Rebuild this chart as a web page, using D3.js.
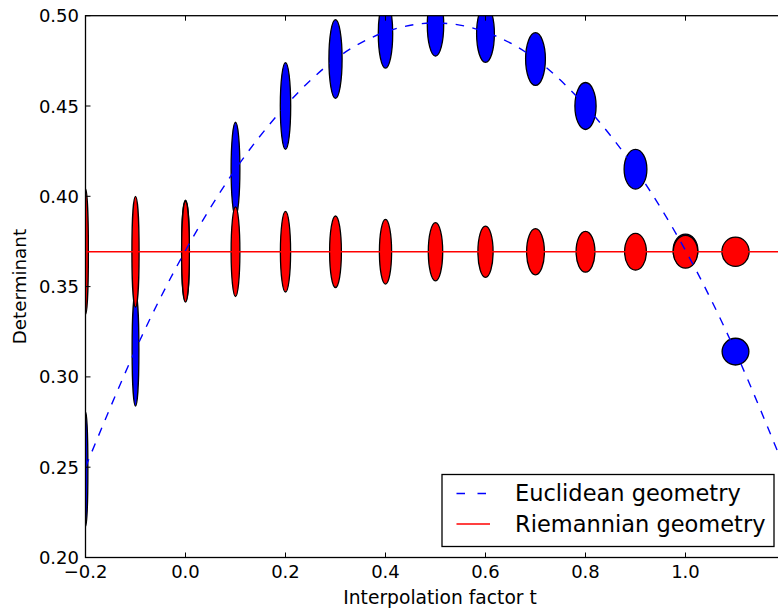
<!DOCTYPE html>
<html>
<head>
<meta charset="utf-8">
<script src="https://cdn.jsdelivr.net/npm/d3@7"></script>
<style>
  body { margin: 0; background: #fff; }
  svg { display: block; font-family: "DejaVu Sans", sans-serif; }
</style>
</head>
<body>
<svg id="chart" width="778" height="610"></svg>
<script>
// interpolation factor for each drawn ellipse
const tValues = [-0.2, -0.1, 0.0, 0.1, 0.2, 0.3, 0.4, 0.5, 0.6, 0.7, 0.8, 0.9, 1.0, 1.1];

// euclidean interpolation: determinant and ellipse semi-axes (t units, determinant units)
const euclidDet = [0.249, 0.315, 0.370, 0.415, 0.450, 0.476, 0.490, 0.495, 0.490, 0.476, 0.450, 0.415, 0.370, 0.314];
const euclidHalfW = [0.0048, 0.0068, 0.0078, 0.0088, 0.0104, 0.0132, 0.0144, 0.0164, 0.0178, 0.0198, 0.0212, 0.0228, 0.0248, 0.0268];
const euclidHalfH = [0.0318, 0.0312, 0.0279, 0.0260, 0.0240, 0.0218, 0.0190, 0.0174, 0.0158, 0.0146, 0.0130, 0.0110, 0.0091, 0.0074];

// riemannian interpolation: determinant stays constant
const riemannDet = 0.3693;
const riemannHalfW = [0.0058, 0.0072, 0.0078, 0.0088, 0.0102, 0.0118, 0.0122, 0.0144, 0.0152, 0.0178, 0.0188, 0.0218, 0.0244, 0.0272];
const riemannHalfH = [0.0348, 0.0307, 0.0279, 0.0248, 0.0223, 0.0198, 0.0179, 0.0161, 0.0142, 0.0128, 0.0113, 0.0102, 0.0091, 0.0081];

const curveT = [-0.2, -0.1, 0.0, 0.1, 0.2, 0.3, 0.4, 0.5, 0.6, 0.7, 0.8, 0.9, 1.0, 1.1, 1.2];
const curveDet = [0.250, 0.315, 0.370, 0.415, 0.450, 0.476, 0.491, 0.496, 0.491, 0.476, 0.450, 0.415, 0.370, 0.314, 0.248];

const xTicks = [-0.2, 0.0, 0.2, 0.4, 0.6, 0.8, 1.0];
const yTicks = [0.20, 0.25, 0.30, 0.35, 0.40, 0.45, 0.50];
const legendLabels = ['Euclidean geometry', 'Riemannian geometry'];

const plotLeft = 85.5, plotTop = 15.7, plotRight = 785.5, plotBottom = 557.5;

const svg = d3.select('#chart');
const x = d3.scaleLinear().domain([-0.2, 1.2]).range([plotLeft, plotRight]);
const y = d3.scaleLinear().domain([0.2, 0.5]).range([plotBottom, plotTop]);

svg.append('defs').append('clipPath').attr('id', 'plot-clip')
    .append('rect')
    .attr('x', plotLeft).attr('y', plotTop)
    .attr('width', plotRight - plotLeft).attr('height', plotBottom - plotTop);

const plot = svg.append('g').attr('clip-path', 'url(#plot-clip)');

// blue ellipses first, red ones on top
plot.selectAll('ellipse.euclid')
    .data(tValues)
    .join('ellipse')
    .attr('class', 'euclid')
    .attr('cx', (t) => x(t))
    .attr('cy', (t, i) => y(euclidDet[i]))
    .attr('rx', (t, i) => x(euclidHalfW[i]) - x(0))
    .attr('ry', (t, i) => y(0.2) - y(0.2 + euclidHalfH[i]))
    .attr('fill', '#0000ff')
    .attr('stroke', '#000')
    .attr('stroke-width', 1.3);

plot.selectAll('ellipse.riemann')
    .data(tValues)
    .join('ellipse')
    .attr('class', 'riemann')
    .attr('cx', (t) => x(t))
    .attr('cy', y(riemannDet))
    .attr('rx', (t, i) => x(riemannHalfW[i]) - x(0))
    .attr('ry', (t, i) => y(0.2) - y(0.2 + riemannHalfH[i]))
    .attr('fill', '#ff0000')
    .attr('stroke', '#000')
    .attr('stroke-width', 1.3);

let curveLine = d3.line()
    .x((d) => x(d[0]))
    .y((d) => y(d[1]))
    .curve(d3.curveNatural);

plot.append('path')
    .datum(curveT.map((t, i) => [t, curveDet[i]]))
    .attr('d', curveLine)
    .attr('fill', 'none')
    .attr('stroke', '#0000ff')
    .attr('stroke-width', 1.4)
    .attr('stroke-dasharray', '8.5,8.5');

plot.append('line')
    .attr('x1', x(-0.2)).attr('x2', x(1.2))
    .attr('y1', y(riemannDet)).attr('y2', y(riemannDet))
    .attr('stroke', '#ff0000')
    .attr('stroke-width', 1.5);

// frame
svg.append('rect')
    .attr('x', plotLeft).attr('y', plotTop)
    .attr('width', plotRight - plotLeft).attr('height', plotBottom - plotTop)
    .attr('fill', 'none')
    .attr('stroke', '#000')
    .attr('stroke-width', 1.3);

// inward ticks, on all four sides
let tickLen = 5;
let ticks = svg.append('g').attr('stroke', '#000').attr('stroke-width', 1);
xTicks.forEach((t) => {
  ticks.append('line').attr('x1', x(t)).attr('x2', x(t)).attr('y1', plotBottom).attr('y2', plotBottom - tickLen);
  ticks.append('line').attr('x1', x(t)).attr('x2', x(t)).attr('y1', plotTop).attr('y2', plotTop + tickLen);
});
yTicks.forEach((v) => {
  ticks.append('line').attr('x1', plotLeft).attr('x2', plotLeft + tickLen).attr('y1', y(v)).attr('y2', y(v));
  ticks.append('line').attr('x1', plotRight).attr('x2', plotRight - tickLen).attr('y1', y(v)).attr('y2', y(v));
});

let fmtX = (t) => d3.format('.1f')(t).replace('-', '\u2212');
svg.append('g').selectAll('text')
    .data(xTicks)
    .join('text')
    .attr('x', (t) => x(t))
    .attr('y', 578)
    .attr('text-anchor', 'middle')
    .attr('font-size', 18)
    .text(fmtX);

svg.append('g').selectAll('text')
    .data(yTicks)
    .join('text')
    .attr('x', 79)
    .attr('y', (v) => y(v) + 6.5)
    .attr('text-anchor', 'end')
    .attr('font-size', 18)
    .text(d3.format('.2f'));

svg.append('text')
    .attr('x', 440)
    .attr('y', 604)
    .attr('text-anchor', 'middle')
    .attr('font-size', 18.7)
    .text('Interpolation factor t');

svg.append('text')
    .attr('transform', `translate(25.5, ${(plotTop + plotBottom) / 2}) rotate(-90)`)
    .attr('text-anchor', 'middle')
    .attr('font-size', 18.3)
    .text('Determinant');

// legend
let legend = svg.append('g');
legend.append('rect')
    .attr('x', 442).attr('y', 474.5)
    .attr('width', 332).attr('height', 72)
    .attr('fill', '#fff')
    .attr('stroke', '#000')
    .attr('stroke-width', 1.3);

legend.append('line')
    .attr('x1', 456.5).attr('x2', 489.5)
    .attr('y1', 493.5).attr('y2', 493.5)
    .attr('stroke', '#0000ff')
    .attr('stroke-width', 1.4)
    .attr('stroke-dasharray', '8.5,12.5');
legend.append('line')
    .attr('x1', 456.5).attr('x2', 490)
    .attr('y1', 524).attr('y2', 524)
    .attr('stroke', '#ff0000')
    .attr('stroke-width', 1.5);

legend.selectAll('text')
    .data(legendLabels)
    .join('text')
    .attr('x', 515)
    .attr('y', (d, i) => 501 + i * 31)
    .attr('font-size', 22.5)
    .text((d) => d);
</script>
</body>
</html>
